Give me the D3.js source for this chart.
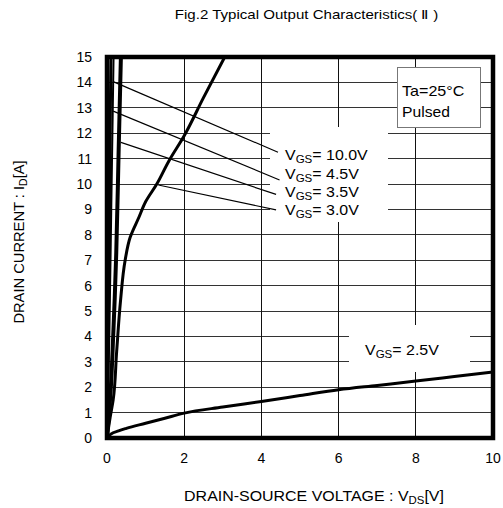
<!DOCTYPE html>
<html><head><meta charset="utf-8">
<script src="https://cdn.jsdelivr.net/npm/d3@7"></script>
<style>body{margin:0;background:#fff;} text{font-family:Arial,"Liberation Sans",sans-serif;fill:#000;}</style>
</head><body>
<svg id="c" width="503" height="508"></svg>
<script>
// ---- data ----
const xTicks = [0, 2, 4, 6, 8, 10];
const yTicks = [0,1,2,3,4,5,6,7,8,9,10,11,12,13,14,15];
const vgsLabels = ["10.0V", "4.5V", "3.5V", "3.0V", "2.5V"];
const vgs10 = [[0,0],[0.04,5],[0.07,10],[0.1,15]];
const vgs45 = [[0,0],[0.06,4],[0.11,9],[0.15,13],[0.17,15]];
const vgs35 = [[0,0],[0.1,2],[0.16,4],[0.2,5.5],[0.24,7.3],[0.3,11.2],[0.36,15]];
const vgs30 = [[0,0],[0.08,0.8],[0.16,1.5],[0.25,3.4],[0.35,5.4],[0.47,7.0],[0.6,7.9],[0.83,8.7],[1.0,9.3],[1.29,10.0],[1.6,10.9],[2.0,11.9],[2.5,13.4],[3.05,15]];
const vgs25 = [[0,0],[0.1,0.15],[0.3,0.28],[0.5,0.38],[1.0,0.58],[1.5,0.78],[2.0,0.98],[3,1.22],[4,1.44],[5,1.67],[6,1.9],[7,2.07],[8,2.24],[9,2.42],[10,2.6]];
// leader lines: [curve point, label point] in data units
const leaders = [
  [[0.16,14.03],[4.43,11.25]],
  [[0.16,12.87],[4.47,10.16]],
  [[0.36,11.64],[4.38,9.59]],
  [[1.33,9.96],[4.38,8.98]]
];

// ---- layout ----
const svg = d3.select("#c");
const x = d3.scaleLinear().domain([0,10]).range([107,493]);
const y = d3.scaleLinear().domain([0,15]).range([438,57]);

svg.append("rect").attr("width",503).attr("height",508).attr("fill","#fff");

// grid
const g = svg.append("g");
g.selectAll("line.h").data(yTicks.filter(d=>d>0&&d<15)).enter().append("line")
  .attr("x1",x(0)).attr("x2",x(10)).attr("y1",d=>y(d)).attr("y2",d=>y(d))
  .attr("stroke","#333").attr("stroke-width",1).attr("shape-rendering","crispEdges");
g.selectAll("line.v").data(xTicks.filter(d=>d>0&&d<10)).enter().append("line")
  .attr("x1",d=>x(d)).attr("x2",d=>x(d)).attr("y1",y(0)).attr("y2",y(15))
  .attr("stroke","#111").attr("stroke-width",1).attr("shape-rendering","crispEdges");

// helper: horizontally stretched text
function stext(px, py, size, sx, anchor){
  return svg.append("text").attr("transform",`translate(${px},${py}) scale(${sx},1)`)
    .attr("font-size",size).attr("text-anchor",anchor||"start");
}

// white masks behind labels
svg.append("rect").attr("x",270).attr("y",127).attr("width",118).attr("height",95).attr("fill","#fff");
svg.append("rect").attr("x",349).attr("y",325).attr("width",121).attr("height",47).attr("fill","#fff");
// legend box
svg.append("rect").attr("x",397.5).attr("y",67.5).attr("width",83).attr("height",60)
  .attr("fill","#fff").attr("stroke","#777").attr("stroke-width",1);
stext(402,96,14,1.15).text("Ta=25°C");
stext(402,117,14,1.12).text("Pulsed");

// clip
svg.append("clipPath").attr("id","clip").append("rect")
  .attr("x",x(0)).attr("y",y(15)).attr("width",x(10)-x(0)).attr("height",y(0)-y(15));

const line = d3.line().x(d=>x(d[0])).y(d=>y(d[1])).curve(d3.curveMonotoneY);
const line2 = d3.line().x(d=>x(d[0])).y(d=>y(d[1])).curve(d3.curveMonotoneX);
const cg = svg.append("g").attr("clip-path","url(#clip)");
[[vgs10,3],[vgs45,2],[vgs35,4],[vgs30,3]].forEach(([d,w])=>{
  cg.append("path").attr("d",line(d)).attr("fill","none").attr("stroke","#000").attr("stroke-width",w).attr("stroke-linejoin","round");
});
cg.append("path").attr("d",line2(vgs25)).attr("fill","none").attr("stroke","#000").attr("stroke-width",3);

// leader lines
svg.selectAll("line.ld").data(leaders).enter().append("line")
  .attr("x1",d=>x(d[0][0])).attr("y1",d=>y(d[0][1]))
  .attr("x2",d=>x(d[1][0])).attr("y2",d=>y(d[1][1]))
  .attr("stroke","#000").attr("stroke-width",1.2);

// border
svg.append("rect").attr("x",x(0)).attr("y",y(15)).attr("width",x(10)-x(0)).attr("height",y(0)-y(15))
  .attr("fill","none").attr("stroke","#000").attr("stroke-width",4.5);

// VGS labels
function vgsText(px, py, val){
  const t = stext(px, py, 14.5, 1.1);
  t.append("tspan").text("V");
  t.append("tspan").attr("font-size",10.5).attr("dy",3).text("GS");
  t.append("tspan").attr("dy",-3).text("= "+val);
}
const labelY = [160,178.5,196.5,215];
vgsLabels.slice(0,4).forEach((v,i)=>vgsText(285,labelY[i],v));
vgsText(365,355,vgsLabels[4]);

// axes tick labels
svg.selectAll("text.xt").data(xTicks).enter().append("text")
  .attr("x",d=>x(d)).attr("y",463).attr("text-anchor","middle").attr("font-size",14).text(d=>d);
svg.selectAll("text.yt").data(yTicks).enter().append("text")
  .attr("x",92).attr("y",d=>y(d)).attr("dy","0.36em").attr("text-anchor","end").attr("font-size",14).text(d=>d);

// titles
stext(306.5,18.5,13,1.16,"middle").text("Fig.2 Typical Output Characteristics( Ⅱ )");
const xt = stext(314,501,14,1.14,"middle");
xt.append("tspan").text("DRAIN-SOURCE VOLTAGE : V");
xt.append("tspan").attr("font-size",10).attr("dy",3).text("DS");
xt.append("tspan").attr("dy",-3).text("[V]");
const yt = svg.append("text").attr("transform","translate(24,242) rotate(-90) scale(1.05,1)").attr("text-anchor","middle").attr("font-size",14);
yt.append("tspan").text("DRAIN CURRENT : I");
yt.append("tspan").attr("font-size",10).attr("dy",3).text("D");
yt.append("tspan").attr("dy",-3).text("[A]");
</script>
</body></html>
